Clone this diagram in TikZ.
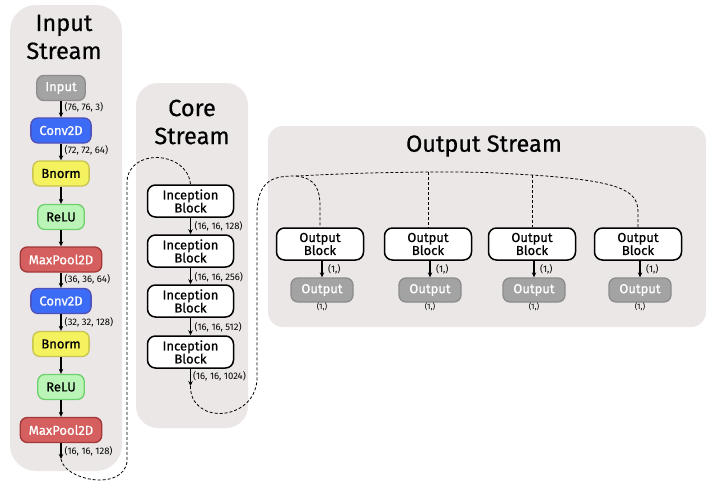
\documentclass[tikz,border=0pt]{standalone}
\usepackage{fontspec}
\setmainfont{Fira Sans}
\newfontfamily\medfont{Fira Sans}[FakeBold=0.7]
\newfontfamily\titlefont{Fira Sans}[FakeBold=0.5]
\usetikzlibrary{arrows.meta}
\definecolor{panelbg}{HTML}{EBE7E6}
\definecolor{grayfill}{HTML}{A3A3A3}
\definecolor{grayline}{HTML}{8C8C8C}
\definecolor{bluefill}{HTML}{3C6CF5}
\definecolor{blueline}{HTML}{5050B8}
\definecolor{yelfill}{HTML}{F4F25E}
\definecolor{yelline}{HTML}{C8C450}
\definecolor{grnfill}{HTML}{BAF4B6}
\definecolor{grnline}{HTML}{6CD06C}
\definecolor{redfill}{HTML}{D55E5E}
\definecolor{redline}{HTML}{A23838}
\begin{document}
\begin{tikzpicture}[x=1pt,y=-1pt,
  panel/.style={fill=panelbg,draw=none},
  title/.style={font=\titlefont\fontsize{23.5}{28}\selectfont,align=center,text=black},
  layer/.style={rounded corners=7pt,line width=1.3pt,minimum height=25pt,inner xsep=8.5pt,inner ysep=0pt,
    font=\medfont\fontsize{13}{14}\selectfont},
  grayb/.style={layer,fill=grayfill,draw=grayline,text=white},
  blueb/.style={layer,fill=bluefill,draw=blueline,text=white},
  yelb/.style={layer,fill=yelfill,draw=yelline,text=black},
  grnb/.style={layer,fill=grnfill,draw=grnline,text=black},
  redb/.style={layer,fill=redfill,draw=redline,text=white},
  block/.style={rounded corners=8pt,line width=1.5pt,draw=black,fill=white,minimum width=86pt,minimum height=32pt,
    inner sep=0pt,align=center,font=\medfont\fontsize{13}{13}\selectfont},
  outb/.style={grayb,minimum width=62pt,minimum height=24pt},
  shape lbl/.style={font=\fontsize{9.5}{10}\selectfont,anchor=west,inner sep=0pt},
  flow/.style={line width=1.2pt,-{Stealth[length=5pt,width=4.5pt]}},
  link/.style={line width=0.8pt,dash pattern=on 3pt off 2pt}
]
\useasboundingbox (0,0) rectangle (716,482);
% panels
\fill[panel,rounded corners=26pt] (10,5) rectangle (122,471);
\fill[panel,rounded corners=22pt] (136,83) rectangle (248,428);
\fill[panel,rounded corners=15pt] (268,126) rectangle (706,327);
\node[title] (t1) at (64,37) {Input\\Stream};
\node[title] (t2) at (192,122) {Core\\Stream};
\node[title] (t3) at (484,146) {Output Stream};
% input stream
\node[grayb] (in) at (61,88) {Input};
\node[blueb] (c1) at (61,130.5) {Conv2D};
\node[yelb] (b1) at (61,173.5) {Bnorm};
\node[grnb] (r1) at (61,217) {ReLU};
\node[redb] (m1) at (61,259.5) {MaxPool2D};
\node[blueb] (c2) at (61,301) {Conv2D};
\node[yelb] (b2) at (61,344) {Bnorm};
\node[grnb] (r2) at (61,387) {ReLU};
\node[redb] (m2) at (61,430) {MaxPool2D};
\coordinate (inend) at (61,459);
\draw[flow] (in) -- (c1);
\draw[flow] (c1) -- (b1);
\draw[flow] (b1) -- (r1);
\draw[flow] (r1) -- (m1);
\draw[flow] (m1) -- (c2);
\draw[flow] (c2) -- (b2);
\draw[flow] (b2) -- (r2);
\draw[flow] (r2) -- (m2);
\draw[flow] (m2) -- (inend);
\node[shape lbl] (l1) at (64.5,107) {(76, 76, 3)};
\node[shape lbl] (l2) at (64.5,150) {(72, 72, 64)};
\node[shape lbl] (l3) at (64.5,279) {(36, 36, 64)};
\node[shape lbl] (l4) at (64.5,322) {(32, 32, 128)};
\node[shape lbl] (l5) at (64.5,451) {(16, 16, 128)};
% core stream
\node[block] (i1) at (190.5,201) {Inception\\Block};
\node[block] (i2) at (190.5,251) {Inception\\Block};
\node[block] (i3) at (190.5,301) {Inception\\Block};
\node[block] (i4) at (190.5,352) {Inception\\Block};
\coordinate (coreend) at (190.5,386);
\draw[flow] (i1) -- (i2);
\draw[flow] (i2) -- (i3);
\draw[flow] (i3) -- (i4);
\draw[flow] (i4) -- (coreend);
\node[shape lbl] (k1) at (194.5,226) {(16, 16, 128)};
\node[shape lbl] (k2) at (194.5,277) {(16, 16, 256)};
\node[shape lbl] (k3) at (194.5,327) {(16, 16, 512)};
\node[shape lbl] (k4) at (193,376) {(16, 16, 1024)};
% output stream
\foreach \n/\x in {1/320,2/428,3/532,4/638}{
  \node[block,minimum width=87pt] (ob\n) at (\x,244) {Output\\Block};
  \node[outb] (o\n) at (\x+2,290) {Output};
  \draw[flow] (ob\n.south -| o\n) -- (o\n);
  \node[shape lbl] (p\n) at (\x+8,269) {(1,)};
  \node[font=\fontsize{8}{9}\selectfont,inner sep=0pt] (q\n) at (\x+2,307) {(1,)};
}
% dashed links
\draw[link] (inend) .. controls (64,480) and (122,492) .. (127,462) -- (127,182)
  .. controls (128,148) and (187,150) .. (i1.north);
\coordinate (hub) at (296,176);
\coordinate (top2) at (428,172);
\coordinate (top3) at (532,175);
\draw[link] (coreend) .. controls (190,425) and (254,422) .. (257,380) -- (257,212)
  .. controls (258,178) and (276,176) .. (hub)
  .. controls (360,173) .. (top2)
  .. controls (480,172) .. (top3)
  .. controls (620,181) and (638,190) .. (638,212) -- (ob4.north);
\draw[link] (hub) .. controls (316,178) and (320,190) .. (320,206) -- (ob1.north);
\draw[link] (top2) -- (ob2.north);
\draw[link] (top3) -- (ob3.north);
\end{tikzpicture}
\end{document}
